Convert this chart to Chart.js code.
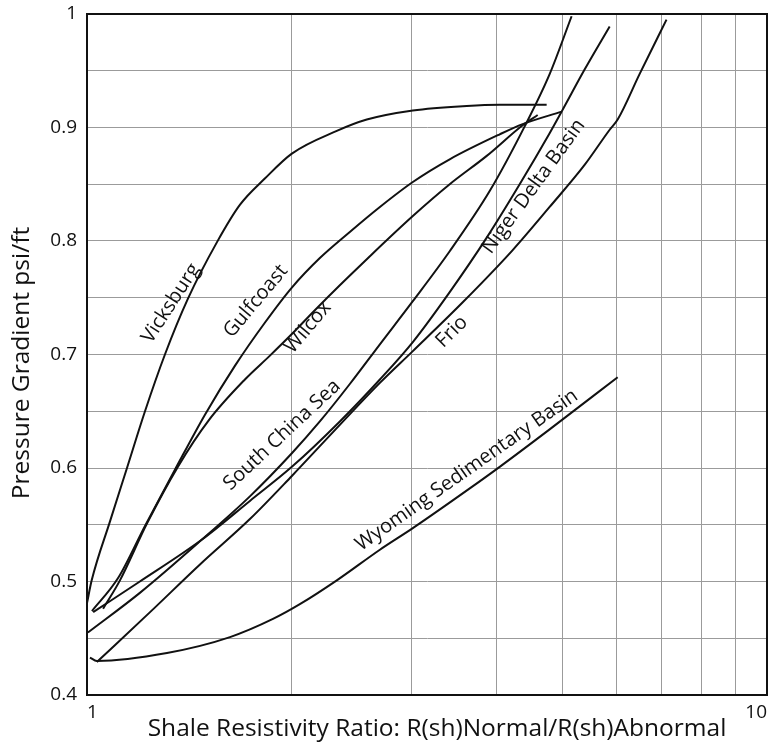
<!DOCTYPE html>
<html lang="en">
<head>
<meta charset="UTF-8">
<title>Pressure Gradient vs Shale Resistivity Ratio</title>
<script src="https://cdn.jsdelivr.net/npm/chart.js"></script>
<style>
  html, body { margin: 0; padding: 0; background: #fff; }
  #wrap { position: relative; width: 775px; height: 743px; }
</style>
</head>
<body>
<div id="wrap"><canvas id="chart"></canvas></div>
<script>
// shale resistivity ratio (x) vs pressure gradient psi/ft (y)
const vicksburgX = [1.000, 1.016, 1.081, 1.145, 1.217, 1.302, 1.407, 1.553, 1.679, 1.826, 2.001, 2.330, 2.579, 3.014, 3.618, 4.045, 4.742];
const vicksburgY = [0.481, 0.501, 0.553, 0.600, 0.650, 0.700, 0.749, 0.799, 0.832, 0.855, 0.877, 0.897, 0.907, 0.915, 0.919, 0.920, 0.920];

const gulfcoastX = [1.017, 1.111, 1.217, 1.351, 1.491, 1.650, 1.826, 2.001, 2.200, 2.435, 2.696, 3.014, 3.415, 4.045, 4.372, 4.989];
const gulfcoastY = [0.474, 0.503, 0.549, 0.600, 0.647, 0.690, 0.728, 0.759, 0.785, 0.808, 0.830, 0.852, 0.872, 0.894, 0.903, 0.914];

const wilcoxX = [1.056, 1.118, 1.225, 1.360, 1.510, 1.707, 1.858, 2.001, 2.163, 2.354, 2.579, 3.014, 3.415, 3.871, 4.372, 4.600];
const wilcoxY = [0.476, 0.501, 0.551, 0.601, 0.642, 0.678, 0.699, 0.718, 0.739, 0.761, 0.784, 0.822, 0.850, 0.875, 0.902, 0.911];

const southChinaX = [1.003, 1.196, 1.476, 1.736, 2.001, 2.200, 2.435, 2.696, 3.014, 3.415, 3.910, 4.402, 4.790, 5.160];
const southChinaY = [0.455, 0.490, 0.537, 0.575, 0.613, 0.641, 0.674, 0.709, 0.747, 0.791, 0.844, 0.901, 0.947, 0.998];

const nigerX = [1.021, 1.196, 1.476, 1.736, 2.001, 2.354, 2.696, 3.014, 3.415, 3.871, 4.328, 4.790, 4.989, 5.392, 5.870];
const nigerY = [0.473, 0.500, 0.537, 0.571, 0.601, 0.641, 0.678, 0.711, 0.755, 0.803, 0.850, 0.895, 0.914, 0.951, 0.989];

const frioX = [1.034, 1.238, 1.466, 1.736, 2.001, 2.354, 2.696, 3.014, 3.569, 4.227, 4.790, 5.392, 5.870, 6.031, 6.495, 7.116];
const frioY = [0.429, 0.473, 0.515, 0.555, 0.593, 0.638, 0.675, 0.703, 0.746, 0.792, 0.830, 0.867, 0.898, 0.907, 0.947, 0.995];

const wyomingX = [1.010, 1.034, 1.311, 1.623, 1.877, 2.056, 2.330, 2.696, 3.014, 3.655, 4.045, 4.790, 6.031];
const wyomingY = [0.433, 0.430, 0.437, 0.451, 0.467, 0.480, 0.501, 0.528, 0.547, 0.582, 0.601, 0.634, 0.680];

const xTicks = [1, 2, 3, 4, 5, 6, 7, 8, 9, 10];
const xLabelled = [1, 10];
const yLabelled = [0.4, 0.5, 0.6, 0.7, 0.8, 0.9, 1];

const xTitle = 'Shale Resistivity Ratio: R(sh)Normal/R(sh)Abnormal';
const yTitle = 'Pressure Gradient psi/ft';

// names written along the curves (anchor in data units)
const curveLabels = [
  { text: 'Vicksburg', x: 1.329, y: 0.745, angle: -57 },
  { text: 'Gulfcoast', x: 1.771, y: 0.747, angle: -50 },
  { text: 'Wilcox', x: 2.113, y: 0.724, angle: -50 },
  { text: 'South China Sea', x: 1.935, y: 0.629, angle: -43 },
  { text: 'Niger Delta Basin', x: 4.538, y: 0.848, angle: -54 },
  { text: 'Frio', x: 3.44, y: 0.720, angle: -45 },
  { text: 'Wyoming Sedimentary Basin', x: 3.618, y: 0.598, angle: -35 }
];

function pts(xs, ys) {
  return xs.map((v, i) => ({ x: v, y: ys[i] }));
}

function curve(name, xs, ys) {
  return {
    label: name,
    data: pts(xs, ys),
    borderColor: '#111',
    borderWidth: 2,
    pointRadius: 0,
    fill: false,
    cubicInterpolationMode: 'monotone'
  };
}

const font = 'Open Sans';
const ink = '#111';

const labelPlugin = {
  id: 'curveLabels',
  afterDatasetsDraw(chart) {
    const { ctx, chartArea: a, scales: { x, y } } = chart;
    ctx.save();
    // box round the plot
    ctx.strokeStyle = ink;
    ctx.lineWidth = 2;
    ctx.strokeRect(a.left, a.top, a.right - a.left, a.bottom - a.top);

    ctx.fillStyle = ink;
    ctx.textAlign = 'center';
    ctx.textBaseline = 'middle';
    ctx.font = '20px "' + font + '"';
    curveLabels.forEach(l => {
      ctx.save();
      ctx.translate(x.getPixelForValue(l.x), y.getPixelForValue(l.y));
      ctx.rotate(l.angle * Math.PI / 180);
      ctx.fillText(l.text, 0, 0);
      ctx.restore();
    });

    // axis titles
    ctx.font = '24.5px "' + font + '"';
    ctx.fillText(xTitle, a.left + 350, a.bottom + 34);
    ctx.save();
    ctx.translate(22, a.top + 349);
    ctx.rotate(-Math.PI / 2);
    ctx.fillText(yTitle, 0, 0);
    ctx.restore();
    ctx.restore();
  }
};

new Chart(document.getElementById('chart'), {
  type: 'line',
  data: {
    datasets: [
      curve('Vicksburg', vicksburgX, vicksburgY),
      curve('Gulfcoast', gulfcoastX, gulfcoastY),
      curve('Wilcox', wilcoxX, wilcoxY),
      curve('South China Sea', southChinaX, southChinaY),
      curve('Niger Delta Basin', nigerX, nigerY),
      curve('Frio', frioX, frioY),
      curve('Wyoming Sedimentary Basin', wyomingX, wyomingY)
    ]
  },
  options: {
    responsive: true,
    maintainAspectRatio: false,
    animation: false,
    layout: { padding: { top: 0, right: 8, bottom: 0, left: 0 } },
    plugins: {
      legend: { display: false },
      tooltip: { enabled: false }
    },
    scales: {
      x: {
        type: 'logarithmic',
        min: 1,
        max: 10,
        afterBuildTicks: s => { s.ticks = xTicks.map(v => ({ value: v })); },
        afterFit: s => { s.height = 48; s.paddingLeft = 0; s.paddingRight = 0; },
        grid: { color: '#9b9b9b', lineWidth: 1, drawTicks: false },
        border: { color: ink, width: 2 },
        ticks: {
          autoSkip: false,
          maxRotation: 0,
          align: 'inner',
          padding: 6,
          color: ink,
          font: { family: font, size: 19 },
          callback: v => xLabelled.includes(v) ? String(v) : ''
        }
      },
      y: {
        min: 0.4,
        max: 1,
        afterFit: s => { s.width = 87; s.paddingTop = 14; s.paddingBottom = 0; },
        grid: { color: '#9b9b9b', lineWidth: 1, drawTicks: false },
        border: { color: ink, width: 2 },
        ticks: {
          stepSize: 0.05,
          padding: 10,
          color: ink,
          font: { family: font, size: 19 },
          callback: v => {
            const r = Math.round(v * 100) / 100;
            if (!yLabelled.some(t => Math.abs(t - r) < 1e-6)) return '';
            return r === 1 ? '1' : r.toFixed(1);
          }
        }
      }
    }
  },
  plugins: [labelPlugin]
});
</script>
</body>
</html>
